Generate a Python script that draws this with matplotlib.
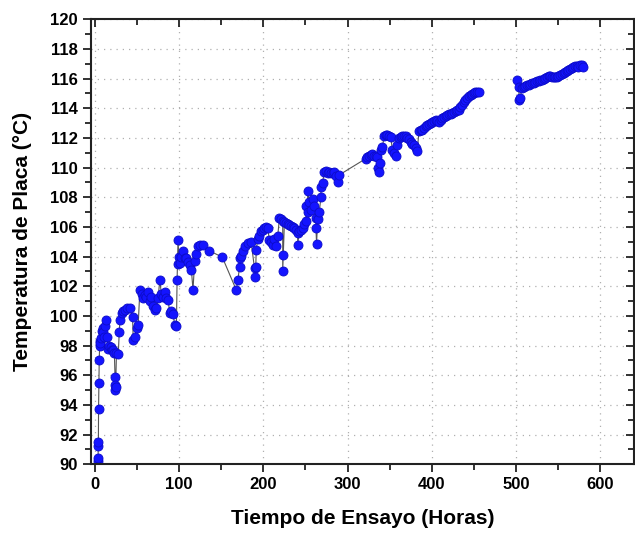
import numpy as np
import matplotlib.pyplot as plt
from matplotlib.ticker import MultipleLocator

# === DATA ===
# first block of the test, up to ~456 h
horas_a = [3.5, 3.6, 3.8, 4.0, 4.2, 4.6, 5.0, 5.5, 6.0, 6.5, 7.5, 8.0, 9.0, 10.0, 11.0, 12.0, 13.0,
           14.0, 15.8, 17.0, 18.5, 20.0, 21.7, 23.0, 23.7, 24.0, 24.2, 24.5, 25.5, 27.6, 28.8, 29.6,
           31.6, 33.5, 35.5, 38.5, 41.4, 44.6, 45.4, 47.4, 49.4, 51.3, 53.3, 55.3, 57.2, 59.0, 61.1,
           63.0, 65.1, 67.0, 69.0, 71.0, 73.0, 75.0, 76.9, 78.9, 80.8, 82.8, 84.8, 86.8, 88.8, 90.7,
           92.7, 94.7, 96.7, 97.5, 98.0, 98.6, 99.6, 100.6, 102.7, 104.6, 106.6, 108.6, 110.5, 112.5,
           114.5, 116.4, 118.4, 120.4, 122.4, 124.3, 128.0, 135.4, 151.2, 167.8, 169.7, 171.7, 172.2,
           173.7, 175.6, 177.6, 181.5, 185.5, 189.5, 190.3, 191.0, 191.5, 193.4, 195.4, 197.4, 199.3,
           201.3, 203.3, 205.2, 207.2, 209.2, 211.2, 213.1, 215.2, 217.1, 219.1, 221.0, 223.0, 223.0,
           223.0, 225.0, 227.0, 229.0, 230.9, 232.9, 234.9, 236.8, 238.8, 240.8, 240.8, 242.7, 244.7,
           246.7, 248.6, 250.6, 250.6, 252.6, 252.6, 254.6, 256.6, 258.5, 260.5, 262.5, 262.5, 263.2,
           264.5, 266.4, 268.4, 268.4, 270.3, 272.3, 274.3, 276.3, 278.3, 280.2, 282.2, 284.2, 286.2,
           288.2, 290.1, 321.7, 323.6, 325.6, 327.6, 329.6, 331.5, 333.5, 335.5, 336.7, 337.5, 338.5,
           339.5, 341.5, 343.4, 345.3, 347.3, 349.3, 351.3, 353.3, 355.2, 357.2, 359.1, 361.1, 363.0,
           365.0, 367.0, 369.0, 371.0, 373.0, 374.9, 376.9, 378.9, 380.9, 382.8, 384.8, 386.8, 388.8,
           390.8, 392.8, 394.8, 396.7, 398.7, 400.7, 402.7, 404.6, 406.5, 408.5, 410.5, 412.5, 414.5,
           416.4, 418.4, 420.4, 422.4, 424.3, 426.3, 428.3, 430.2, 432.2, 434.2, 436.2, 438.1, 440.1,
           442.1, 444.1, 446.1, 448.1, 450.0, 452.0, 454.0, 455.9]
temp_a = [90.2, 90.4, 91.2, 91.5, 93.7, 95.5, 97.0, 98.0, 98.3, 98.2, 98.5, 99.0, 99.2, 98.9, 98.6, 99.3, 99.7,
          98.6, 97.8, 98.0, 97.9, 97.7, 97.7, 97.5, 95.9, 95.35, 95.0, 95.2, 97.5, 97.4, 98.9, 99.7,
          100.2, 100.3, 100.4, 100.5, 100.5, 99.9, 98.4, 98.6, 99.2, 99.4, 101.75, 101.5, 101.2, 101.4, 101.3,
          101.6, 101.0, 101.3, 100.7, 100.4, 100.5, 101.2, 102.4, 101.5, 101.3, 101.6, 101.2, 101.1, 100.2, 100.3,
          100.1, 99.4, 99.3, 102.4, 103.5, 105.1, 104.0, 103.55, 104.0, 104.35, 103.9, 103.9, 103.6, 103.4,
          103.1, 101.75, 103.7, 104.2, 104.7, 104.8, 104.8, 104.4, 103.96, 101.75, 102.4, 103.3, 103.9,
          104.05, 104.4, 104.7, 104.9, 104.97, 103.2, 102.6, 103.3, 104.45, 105.2, 105.4, 105.7, 105.8,
          105.9, 106.0, 105.9, 105.1, 105.0, 104.8, 105.2, 104.7, 105.4, 106.6, 106.5, 106.4, 104.1,
          103.05, 106.3, 106.25, 106.2, 106.15, 106.05, 106.0, 105.9, 105.8, 105.6, 104.8, 105.7, 105.8,
          105.9, 106.2, 106.4, 107.4, 107.0, 108.4, 107.7, 107.15, 107.9, 107.4, 106.6, 105.9, 104.85,
          106.5, 107.0, 108.0, 108.7, 108.95, 109.7, 109.8, 109.6, 109.7, 109.65, 109.6, 109.7, 109.4,
          109.05, 109.5, 110.6, 110.7, 110.8, 110.85, 110.9, 110.8, 110.75, 110.7, 109.96, 109.7, 110.3,
          111.2, 111.4, 112.1, 112.2, 112.2, 112.1, 112.05, 111.2, 110.97, 110.8, 111.5, 112.0, 112.05,
          112.1, 112.15, 112.1, 112.0, 111.9, 111.75, 111.6, 111.5, 111.3, 111.1, 112.43, 112.5, 112.54,
          112.65, 112.77, 112.85, 112.95, 113.0, 113.1, 113.15, 113.21, 113.15, 113.1, 113.2, 113.33, 113.4,
          113.48, 113.55, 113.62, 113.64, 113.66, 113.75, 113.84, 113.87, 113.89, 114.05, 114.22, 114.4, 114.56,
          114.68, 114.79, 114.88, 114.96, 115.02, 115.07, 115.1, 115.11]

# second block, after the stop (~500 h onwards)
horas_b = [501.3, 503.3, 504.0, 505.2, 507.2, 509.2, 511.2, 513.1, 515.1, 517.1, 519.1, 521.0, 523.0,
           525.0, 527.0, 528.9, 530.9, 532.9, 534.9, 536.8, 538.8, 540.7, 542.7, 544.7, 546.7, 548.6,
           550.6, 552.6, 554.6, 556.6, 558.6, 560.5, 562.5, 564.5, 566.5, 568.4, 570.4, 572.3, 574.3,
           576.3, 578.3, 580.3]
temp_b = [115.9, 115.46, 114.56, 114.7, 115.35, 115.4, 115.5, 115.55, 115.58, 115.65, 115.69, 115.72, 115.76,
          115.8, 115.85, 115.88, 115.91, 115.97, 116.03, 116.1, 116.18, 116.15, 116.13, 116.1, 116.09, 116.12,
          116.18, 116.25, 116.32, 116.36, 116.41, 116.5, 116.59, 116.65, 116.7, 116.78, 116.86, 116.83, 116.81,
          116.88, 116.92, 116.81]

plt.rcParams['font.family'] = ['Liberation Sans', 'DejaVu Sans']
plt.rcParams['font.weight'] = 'bold'

fig = plt.figure(figsize=(6.35, 5.33), dpi=100)
ax = fig.add_axes([0.143, 0.129, 0.855, 0.835])

estilo = dict(color='#555555', lw=0.8, marker='o', markersize=6.5,
              markerfacecolor='#1414ff', markeredgecolor='#0c0cc8', markeredgewidth=0.6)
ax.plot(horas_a, temp_a, **estilo)
ax.plot(horas_b, temp_b, **estilo)

ax.set_xlim(-5, 640)
ax.set_ylim(90, 120)
ax.xaxis.set_major_locator(MultipleLocator(100))
ax.xaxis.set_minor_locator(MultipleLocator(50))
ax.yaxis.set_major_locator(MultipleLocator(2))
ax.yaxis.set_minor_locator(MultipleLocator(1))

ax.grid(True, which='major', color='#b0b0b0', linestyle=(0, (1, 4)), lw=0.9)
ax.set_axisbelow(True)

for s in ax.spines.values():
    s.set_linewidth(1.5)
    s.set_color('#222222')

ax.tick_params(which='both', direction='out', width=1.3, labelsize=12, colors='#222222')
ax.tick_params(which='major', length=6)
ax.tick_params(which='minor', length=4)
ax.tick_params(which='both', top=True, right=True)
# ticks on top/right point inward
for t in ax.xaxis.get_ticklines(minor=False)[1::2] + ax.xaxis.get_ticklines(minor=True)[1::2]:
    t.set_marker(3)
for t in ax.yaxis.get_ticklines(minor=False)[1::2] + ax.yaxis.get_ticklines(minor=True)[1::2]:
    t.set_marker(0)
for lab in ax.get_xticklabels() + ax.get_yticklabels():
    lab.set_fontweight('bold')
    lab.set_color('black')

ax.set_xlabel('Tiempo de Ensayo (Horas)', fontsize=15, fontweight='bold', labelpad=12)
ax.set_ylabel('Temperatura de Placa (°C)', fontsize=15, fontweight='bold', labelpad=13)

fig.savefig('out.png', dpi=100)
